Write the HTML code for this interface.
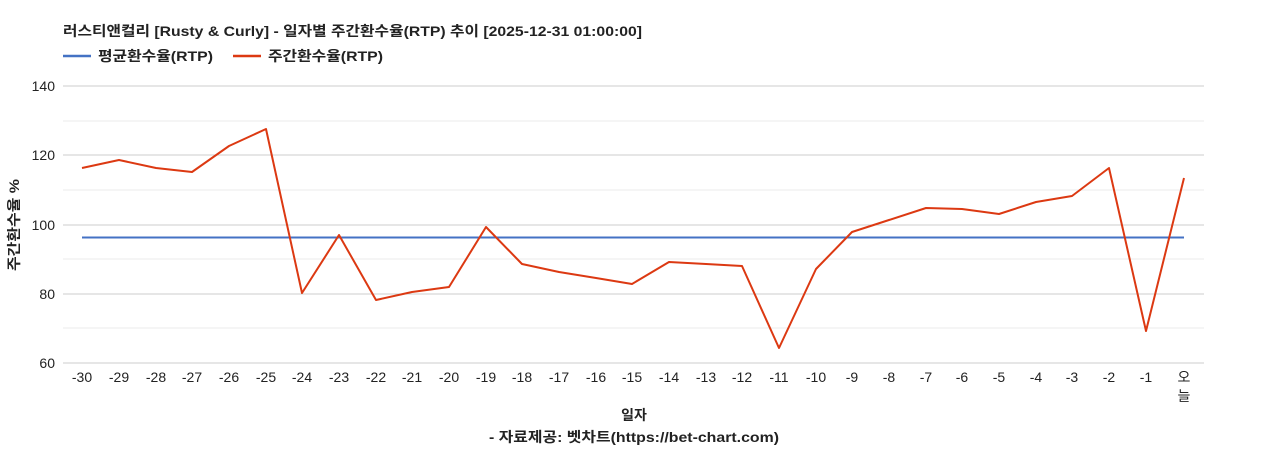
<!DOCTYPE html>
<html><head><meta charset="utf-8"><style>
html,body{margin:0;padding:0;background:#fff;}
svg{display:block;font-family:"Liberation Sans","Noto Sans CJK KR",sans-serif;}
</style></head><body>
<svg width="1268" height="450" viewBox="0 0 1268 450" xmlns="http://www.w3.org/2000/svg">
<text x="63" y="36" font-size="14" font-weight="bold" fill="#222" textLength="579" lengthAdjust="spacingAndGlyphs">러스티앤컬리 [Rusty &amp; Curly] - 일자별 주간환수율(RTP) 추이 [2025-12-31 01:00:00]</text>
<line x1="63" y1="56" x2="91" y2="56" stroke="#4472c4" stroke-width="2.5"/>
<text x="98" y="61" font-size="14" font-weight="bold" fill="#222" textLength="115" lengthAdjust="spacingAndGlyphs">평균환수율(RTP)</text>
<line x1="233" y1="56" x2="261" y2="56" stroke="#dc3912" stroke-width="2.5"/>
<text x="268" y="61" font-size="14" font-weight="bold" fill="#222" textLength="115" lengthAdjust="spacingAndGlyphs">주간환수율(RTP)</text>
<g stroke="#ebebeb" stroke-width="1">
<line x1="63" y1="121" x2="1204" y2="121"/><line x1="63" y1="190" x2="1204" y2="190"/><line x1="63" y1="259" x2="1204" y2="259"/><line x1="63" y1="328" x2="1204" y2="328"/>
</g>
<g stroke="#cccccc" stroke-width="1">
<line x1="63" y1="86" x2="1204" y2="86"/><line x1="63" y1="155" x2="1204" y2="155"/><line x1="63" y1="225" x2="1204" y2="225"/><line x1="63" y1="294" x2="1204" y2="294"/><line x1="63" y1="363" x2="1204" y2="363"/>
</g>
<g font-size="14" fill="#222" text-anchor="end">
<text x="55" y="91">140</text><text x="55" y="160">120</text><text x="55" y="230">100</text><text x="55" y="299">80</text><text x="55" y="368">60</text>
</g>
<text transform="translate(19,225) rotate(-90)" font-size="14" font-weight="bold" fill="#222" text-anchor="middle" textLength="92" lengthAdjust="spacingAndGlyphs">주간환수율 %</text>
<g font-size="14" fill="#222" text-anchor="middle">
<text x="82" y="382">-30</text><text x="119" y="382">-29</text><text x="156" y="382">-28</text><text x="192" y="382">-27</text><text x="229" y="382">-26</text><text x="266" y="382">-25</text><text x="302" y="382">-24</text><text x="339" y="382">-23</text><text x="376" y="382">-22</text><text x="412" y="382">-21</text><text x="449" y="382">-20</text><text x="486" y="382">-19</text><text x="522" y="382">-18</text><text x="559" y="382">-17</text><text x="596" y="382">-16</text><text x="632" y="382">-15</text><text x="669" y="382">-14</text><text x="706" y="382">-13</text><text x="742" y="382">-12</text><text x="779" y="382">-11</text><text x="816" y="382">-10</text><text x="852" y="382">-9</text><text x="889" y="382">-8</text><text x="926" y="382">-7</text><text x="962" y="382">-6</text><text x="999" y="382">-5</text><text x="1036" y="382">-4</text><text x="1072" y="382">-3</text><text x="1109" y="382">-2</text><text x="1146" y="382">-1</text><text x="1184" y="382">오</text><text x="1184" y="401">늘</text>
</g>
<line x1="82" y1="237.5" x2="1184" y2="237.5" stroke="#4472c4" stroke-width="2"/>
<polyline fill="none" stroke="#dc3912" stroke-width="2" stroke-linejoin="round" points="82,168 119,160 156,168 192,172 229,146 266,129 302,293 339,235 376,300 412,292 449,287 486,227 522,264 559,272 596,278 632,284 669,262 706,264 742,266 779,348 816,269 852,232 889,220 926,208 962,209 999,214 1036,202 1072,196 1109,168 1146,331 1184,178"/>
<text x="634" y="420" font-size="14" font-weight="bold" fill="#222" text-anchor="middle">일자</text>
<text x="634" y="442" font-size="14" font-weight="bold" fill="#222" text-anchor="middle" textLength="290" lengthAdjust="spacingAndGlyphs">- 자료제공: 벳차트(https://bet-chart.com)</text>
</svg>
</body></html>
